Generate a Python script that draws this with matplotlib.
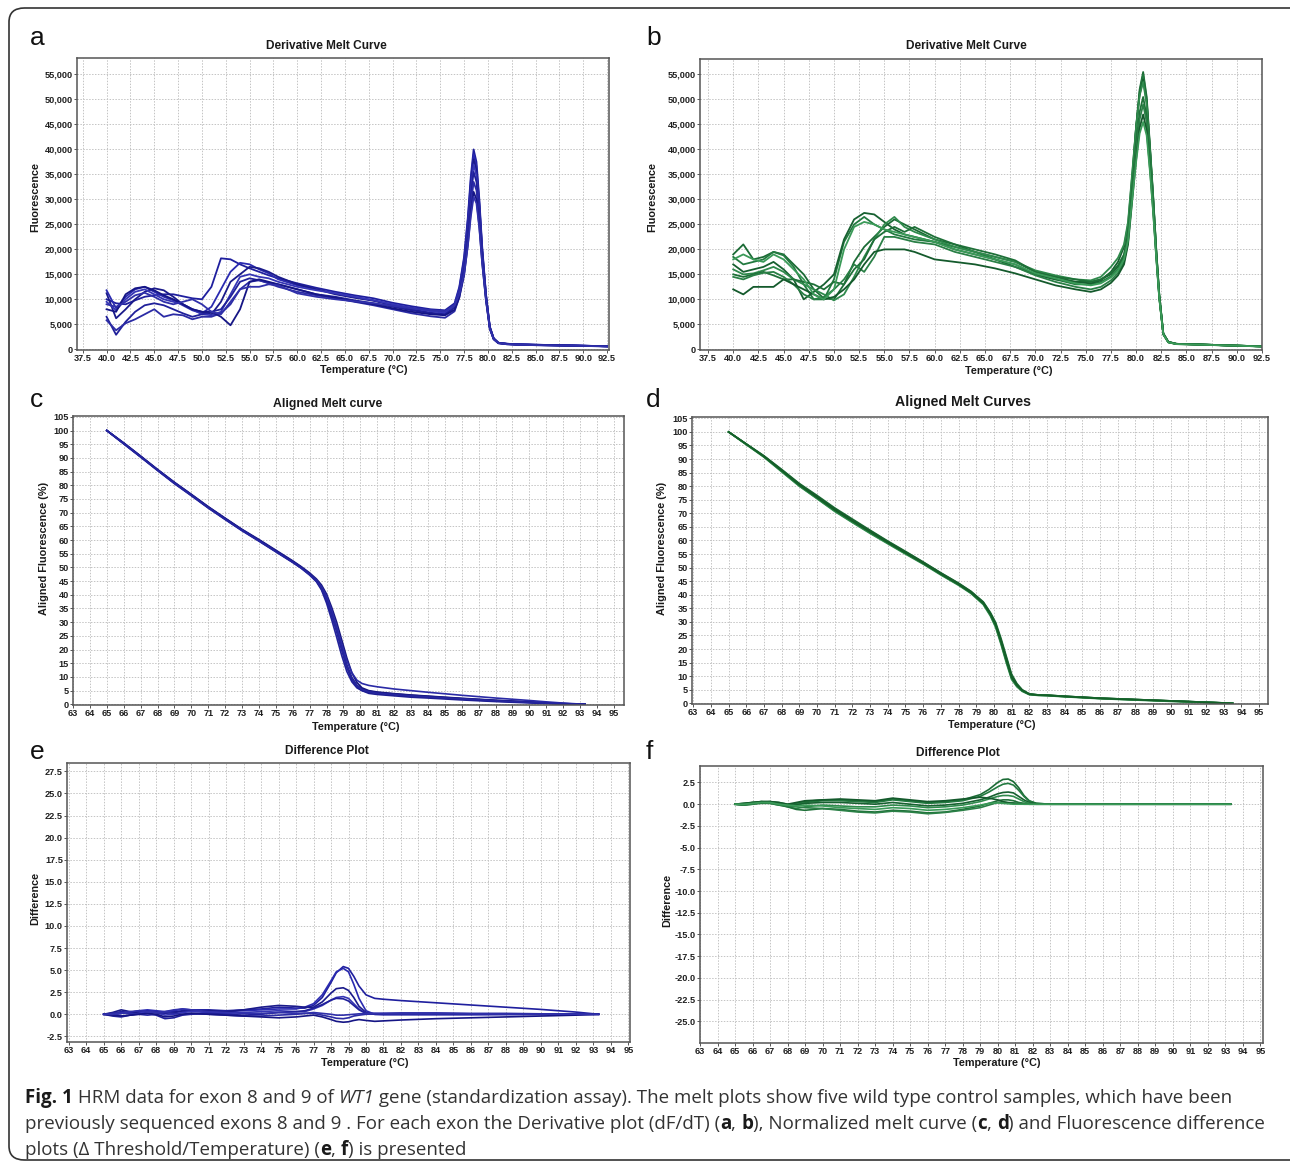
import matplotlib
matplotlib.use('Agg')
import matplotlib.pyplot as plt
from matplotlib.patches import FancyBboxPatch
import numpy as np

W, H = 1290, 1166

# ---- panel a : derivative melt curve, exon 8 (blue) ----
temp_a = [40, 41, 42, 43, 44, 45, 46, 47, 48, 49, 50, 51, 52, 53, 54, 55, 56, 57, 58,
          60, 62, 64, 66, 68, 70, 72, 74,
          75.5, 76.5, 77.0, 77.5, 77.9, 78.2, 78.5, 78.8, 79.1, 79.4, 79.8, 80.2, 80.6, 81.1, 82, 83, 85, 88, 92.5]
deriv_a = [
    [10000, 9200, 9000, 9800, 10500, 10800, 11000, 11000, 10600, 10200, 10000, 12500, 18200, 18000, 17000, 16200, 15500, 14800, 14200,
     13200, 12300, 11500, 10800, 10200, 9300, 8600, 8000,
     7800, 9200, 12500, 18500, 26500, 34500, 40000, 37500, 30000, 20500, 11000, 4500, 2200, 1300, 1100, 1000, 900, 800, 600],
    [11800, 8200, 10500, 12000, 12500, 11500, 10500, 9800, 8800, 7800, 7200, 8500, 12000, 15500, 17300, 17000, 16000, 15200, 14000,
     12800, 12000, 11200, 10500, 9800, 9000, 8300, 7800,
     7500, 8900, 12200, 18000, 26000, 33700, 39000, 36600, 29300, 20000, 10800, 4400, 2150, 1300, 1100, 1000, 900, 800, 600],
    [11200, 6200, 8000, 10000, 11500, 12200, 11800, 10500, 9000, 8000, 7500, 7000, 9500, 13500, 15000, 16500, 16200, 15500, 14500,
     13000, 12000, 11000, 10300, 9700, 8800, 8000, 7300,
     7000, 8400, 11600, 17300, 25000, 32700, 38000, 35800, 28800, 19800, 10800, 4500, 2200, 1280, 1080, 1000, 900, 780, 600],
    [9500, 7800, 10000, 11500, 12000, 11000, 10000, 9500, 9000, 8000, 7000, 6800, 7500, 11000, 14500, 15000, 14500, 14200, 13500,
     12500, 11800, 11200, 10500, 9800, 9000, 8200, 7600,
     7300, 8600, 11600, 17000, 24500, 31900, 37000, 34800, 28000, 19200, 10500, 4300, 2100, 1250, 1080, 1000, 880, 780, 600],
    [6500, 2900, 5500, 7500, 8800, 9200, 8800, 8000, 7200, 6500, 7000, 7500, 8000, 10500, 13500, 14200, 13800, 13300, 13000,
     12000, 11000, 10500, 9800, 9200, 8500, 7800, 7200,
     7000, 8300, 11200, 16300, 23500, 30600, 35500, 33500, 27000, 18600, 10300, 4300, 2100, 1250, 1050, 950, 850, 750, 600],
    [5800, 3800, 5200, 6000, 7000, 8000, 6500, 7000, 6800, 6000, 6500, 6500, 7200, 9000, 12000, 13500, 13800, 13200, 12500,
     11500, 10800, 10200, 9500, 8800, 8000, 7200, 6600,
     6300, 7600, 10400, 15300, 22000, 28800, 33500, 31800, 25800, 18000, 10000, 4200, 2100, 1250, 1050, 950, 850, 750, 600],
    [8000, 7500, 11000, 12200, 12500, 11800, 10800, 10000, 9000, 8000, 7500, 7500, 6500, 4800, 8000, 13500, 14000, 13500, 13000,
     12000, 11000, 10300, 9600, 9000, 8200, 7500, 7000,
     6800, 7900, 10400, 14800, 21000, 27200, 31500, 30000, 24500, 17300, 9700, 4100, 2000, 1200, 1000, 900, 820, 720, 580],
    [9000, 8500, 9500, 10800, 11300, 10500, 9500, 9000, 9500, 10000, 9000, 7500, 7000, 9500, 12000, 12500, 12500, 13000, 12800,
     11200, 10500, 10000, 9600, 9200, 8700, 8200, 7800,
     7600, 8700, 11000, 15000, 20800, 26500, 30500, 29200, 24200, 17200, 9800, 4100, 2000, 1200, 1000, 900, 820, 720, 580],
]

# ---- panel b : derivative melt curve, exon 9 (green) ----
temp_b = [40, 41, 42, 43, 44, 45, 46, 47, 48, 49, 50, 51, 52, 53, 54, 55, 56, 57, 58,
          60, 62, 64, 66, 68, 70, 72, 74,
          75.5, 76.5, 77.5, 78.2, 78.8, 79.2, 79.6, 80.0, 80.35, 80.7, 81.05, 81.4, 81.7, 82.0, 82.3, 82.7,
          83.2, 84, 86, 89, 92.5]
deriv_b = [
    [19000, 21000, 18000, 18500, 19500, 19000, 17000, 15000, 12000, 10200, 10000, 13000, 17500, 20500, 22500, 24500, 26000, 25000, 24000,
     22000, 21000, 19500, 18500, 17500, 15500, 14500, 13500,
     13500, 14000, 15000, 16500, 18800, 23000, 33500, 44500, 52000, 55500, 50500, 40000, 30500, 20000, 11000, 3200,
     1500, 1100, 1000, 800, 600],
    [18500, 17000, 17500, 18000, 19500, 18800, 16500, 13000, 10000, 10000, 14000, 21500, 25000, 26500, 25000, 24000, 23000, 22500, 22000,
     21500, 20500, 19500, 18000, 17000, 15000, 14000, 13000,
     13000, 13500, 14600, 16000, 18300, 22500, 33000, 44000, 51500, 55000, 50000, 39600, 30200, 19800, 10900, 3200,
     1500, 1100, 1000, 800, 600],
    [17000, 15500, 16000, 16500, 17500, 16000, 14000, 10000, 11500, 13000, 15000, 22000, 26000, 27300, 27000, 25500, 24000, 23000, 22500,
     21500, 20000, 19000, 18000, 16500, 15000, 14000, 13500,
     13200, 13800, 15500, 17500, 20500, 25000, 34500, 44500, 51000, 54000, 49500, 39300, 30000, 19700, 10800, 3100,
     1500, 1100, 1000, 800, 600],
    [16000, 15000, 15200, 15800, 16500, 15500, 14000, 13000, 12000, 11000, 9800, 11000, 14500, 18500, 22000, 25000, 26500, 24500, 23500,
     22000, 20500, 19500, 18500, 17500, 15800, 14800, 14000,
     13800, 14500, 16500, 18300, 21000, 25500, 35000, 44500, 50800, 53500, 49000, 39000, 29800, 19600, 10800, 3100,
     1450, 1100, 1000, 800, 600],
    [15000, 14500, 15000, 15500, 14800, 14000, 14000, 13500, 13000, 12000, 13500, 13000, 16000, 18000, 22000, 23500, 24500, 23500, 24500,
     22500, 21000, 20000, 19000, 17800, 15500, 14500, 14000,
     13500, 14000, 15300, 16800, 19000, 23000, 32000, 41000, 47500, 50500, 46500, 37200, 28600, 19000, 10500, 3100,
     1450, 1100, 1000, 800, 600],
    [14500, 14000, 14800, 15300, 15500, 14500, 13000, 11000, 10000, 10500, 12000, 14000, 17000, 15500, 18500, 22500, 22500, 22000, 21500,
     21000, 19500, 18500, 17500, 16500, 14800, 13500, 12500,
     12000, 12500, 13800, 15300, 17500, 21500, 30500, 39500, 46000, 49000, 45500, 36500, 28200, 18800, 10400, 3000,
     1400, 1100, 950, 800, 600],
    [12000, 11000, 12500, 12500, 12500, 14000, 13000, 12000, 11000, 10000, 10500, 12000, 14000, 17000, 19500, 20000, 20000, 20000, 19500,
     18000, 17500, 17000, 16200, 15200, 14000, 12800, 12000,
     11500, 12000, 13300, 14800, 17000, 21000, 29500, 38000, 44300, 47000, 43800, 35500, 27500, 18500, 10300, 3000,
     1400, 1050, 950, 780, 580],
    [18000, 19000, 18000, 17500, 19000, 18000, 16000, 14000, 11000, 10000, 12000, 20000, 24500, 25500, 25000, 24000, 23500, 23000, 22500,
     21500, 20000, 19000, 18000, 17000, 15200, 14200, 13200,
     12800, 13200, 14400, 15800, 18000, 21800, 29800, 37500, 43200, 45500, 42800, 35000, 27200, 18300, 10200, 3000,
     1400, 1050, 950, 780, 580],
]

# ---- panel c : aligned melt curve, exon 8 ----
temp_c = [65, 66, 67, 68, 69, 70, 71, 72, 73, 74, 75, 76, 76.5, 77, 77.4, 77.7, 78.0, 78.3, 78.6, 78.9,
          79.2, 79.5, 79.8, 80.1, 80.5, 81, 82, 83, 84, 86, 88, 90, 91, 92, 93, 93.3]
aligned_c = [
    [100, 95.3, 90.5, 85.6, 80.9, 76.5, 72.0, 67.8, 63.7, 59.9, 56.0, 52.1, 50.0, 47.6, 45.3, 42.8, 38.8, 33.5, 27.5, 20.8,
     14.5, 9.8, 7.0, 5.6, 4.8, 4.3, 3.8, 3.3, 2.9, 2.1, 1.4, 0.8, 0.5, 0.25, 0.05, 0],
    [100, 95.1, 90.3, 85.4, 80.6, 76.2, 71.7, 67.5, 63.4, 59.6, 55.7, 51.8, 49.7, 47.2, 44.8, 41.8, 37.0, 31.0, 24.5, 17.8,
     12.0, 8.2, 6.0, 5.0, 4.4, 4.0, 3.5, 3.0, 2.6, 1.9, 1.2, 0.7, 0.4, 0.2, 0.0, 0],
    [100, 95.5, 90.7, 85.8, 81.1, 76.7, 72.2, 68.0, 63.9, 60.2, 56.3, 52.4, 50.3, 48.0, 45.8, 43.6, 40.3, 35.5, 30.0, 23.5,
     17.0, 11.5, 8.0, 6.0, 5.0, 4.5, 3.9, 3.4, 3.0, 2.2, 1.5, 0.9, 0.55, 0.3, 0.05, 0],
    [100, 95.2, 90.4, 85.5, 80.8, 76.4, 71.9, 67.7, 63.6, 59.8, 55.9, 52.0, 49.9, 47.5, 45.4, 43.0, 39.5, 34.5, 28.5, 22.0,
     16.0, 11.5, 8.8, 7.6, 6.9, 6.4, 5.6, 5.0, 4.4, 3.3, 2.3, 1.4, 0.9, 0.45, 0.1, 0],
    [100, 95.4, 90.6, 85.7, 81.0, 76.6, 72.1, 67.9, 63.8, 60.0, 56.1, 52.2, 50.1, 47.7, 45.0, 42.2, 38.0, 32.5, 26.5, 19.8,
     13.5, 9.0, 6.4, 5.0, 4.0, 3.6, 3.1, 2.6, 2.3, 1.6, 1.0, 0.5, 0.3, 0.1, 0.0, 0],
    [100, 95.3, 90.4, 85.6, 80.7, 76.3, 71.8, 67.6, 63.5, 59.7, 55.8, 51.9, 49.8, 47.4, 45.1, 42.5, 38.3, 33.0, 27.0, 20.2,
     14.0, 9.4, 6.7, 5.4, 4.6, 4.1, 3.6, 3.1, 2.7, 2.0, 1.3, 0.75, 0.45, 0.2, 0.03, 0],
]

# ---- panel d : aligned melt curves, exon 9 ----
temp_d = [65, 66, 67, 68, 69, 70, 71, 72, 73, 74, 75, 76, 77, 78, 78.7, 79.4, 79.8, 80.1, 80.4, 80.7,
          81.0, 81.3, 81.6, 82.0, 82.5, 83, 84, 86, 88, 90, 92, 93, 93.5]
aligned_d = [
    [100, 95.5, 91.0, 85.8, 80.5, 76.0, 71.4, 67.3, 63.3, 59.4, 55.6, 51.8, 47.8, 44.0, 41.0, 37.0, 33.0, 29.0, 23.0, 16.3,
     9.8, 6.8, 4.8, 3.4, 3.1, 3.0, 2.6, 1.9, 1.4, 0.9, 0.4, 0.15, 0],
    [100, 95.6, 91.2, 86.2, 81.0, 76.6, 72.0, 67.9, 63.8, 59.8, 56.0, 52.1, 48.1, 44.3, 41.3, 37.4, 33.5, 29.8, 24.0, 17.4,
     10.8, 7.3, 5.0, 3.5, 3.1, 3.0, 2.6, 1.9, 1.4, 0.9, 0.4, 0.15, 0],
    [100, 95.4, 90.8, 85.5, 80.1, 75.5, 70.9, 66.8, 62.8, 59.0, 55.2, 51.5, 47.5, 43.7, 40.7, 36.6, 32.5, 28.3, 22.2, 15.5,
     9.2, 6.4, 4.6, 3.3, 3.0, 2.9, 2.5, 1.8, 1.3, 0.8, 0.35, 0.1, 0],
    [100, 95.5, 91.1, 86.0, 80.8, 76.3, 71.7, 67.6, 63.6, 59.6, 55.8, 52.0, 48.0, 44.2, 41.2, 37.2, 33.2, 29.3, 23.4, 16.8,
     10.2, 7.0, 4.9, 3.4, 3.1, 3.0, 2.6, 1.9, 1.4, 0.9, 0.4, 0.15, 0],
    [100, 95.3, 90.7, 85.3, 80.0, 75.4, 70.7, 66.6, 62.6, 58.8, 55.0, 51.3, 47.3, 43.5, 40.5, 36.4, 32.2, 28.0, 21.8, 15.0,
     8.8, 6.1, 4.4, 3.2, 2.9, 2.8, 2.4, 1.7, 1.2, 0.7, 0.3, 0.1, 0],
    [100, 95.5, 90.9, 85.7, 80.4, 75.8, 71.2, 67.1, 63.1, 59.2, 55.4, 51.6, 47.6, 43.8, 40.8, 36.8, 32.8, 28.7, 22.6, 15.9,
     9.5, 6.6, 4.7, 3.3, 3.0, 2.9, 2.5, 1.8, 1.3, 0.85, 0.35, 0.12, 0],
]

# ---- panel e : difference plot, exon 8 ----
temp_e = [65, 65.5, 66, 66.5, 67, 67.5, 68, 68.5, 69, 69.5, 70, 71, 72, 73, 74, 75, 76, 76.5, 77, 77.5,
          78, 78.3, 78.7, 79.0, 79.3, 79.6, 80.0, 80.5, 81, 82, 84, 86, 88, 90, 92, 93.3]
diff_e = [
    [0, 0.1, 0.3, 0.2, 0.3, 0.4, 0.3, 0.2, 0.3, 0.4, 0.5, 0.5, 0.4, 0.5, 0.6, 0.8, 0.7, 0.7, 1.0, 1.9,
     3.6, 4.7, 5.4, 5.2, 4.3, 3.2, 2.2, 1.8, 1.7, 1.55, 1.3, 1.05, 0.8, 0.55, 0.25, 0],
    [0, -0.1, 0.1, 0.2, 0.4, 0.5, 0.4, 0.3, 0.4, 0.6, 0.5, 0.4, 0.3, 0.4, 0.5, 0.6, 0.6, 0.8, 1.2, 2.2,
     3.8, 4.8, 5.2, 4.8, 3.4, 1.8, 0.4, 0.0, -0.05, -0.05, -0.05, -0.05, -0.03, -0.02, -0.01, 0],
    [0, 0.2, 0.5, 0.3, 0.2, 0.3, 0.2, 0.1, 0.2, 0.3, 0.4, 0.4, 0.3, 0.5, 0.8, 1.0, 0.9, 0.8, 0.8, 1.4,
     2.4, 2.9, 3.0, 2.7, 1.9, 0.9, 0.2, 0.0, 0.0, 0.0, 0.0, 0.0, 0.0, 0.0, 0.0, 0],
    [0, 0.0, -0.2, -0.1, 0.1, 0.3, 0.2, -0.1, 0.0, 0.2, 0.3, 0.2, 0.1, 0.2, 0.3, 0.4, 0.3, 0.3, 0.6, 1.0,
     1.6, 1.9, 2.0, 1.8, 1.2, 0.6, 0.1, 0.1, 0.1, 0.1, 0.1, 0.05, 0.05, 0.03, 0.01, 0],
    [0, -0.2, -0.3, -0.1, 0.0, 0.1, -0.1, -0.5, -0.4, -0.1, 0.0, 0.1, 0.0, -0.1, 0.0, 0.2, 0.3, 0.4, 0.7, 1.1,
     1.6, 1.8, 1.75, 1.5, 1.0, 0.5, 0.1, 0.0, 0.0, 0.0, 0.0, 0.0, 0.0, 0.0, 0.0, 0],
    [0, 0.1, 0.2, 0.1, 0.0, -0.1, 0.0, 0.2, 0.1, 0.0, 0.1, 0.0, -0.1, -0.2, -0.2, -0.1, 0.0, 0.1, 0.1, -0.1,
     -0.3, -0.45, -0.5, -0.4, -0.2, -0.1, 0.0, 0.05, 0.1, 0.15, 0.15, 0.1, 0.1, 0.05, 0.02, 0],
    [0, -0.1, -0.2, -0.1, 0.0, 0.1, 0.0, -0.3, -0.2, 0.0, 0.1, 0.0, -0.1, -0.2, -0.3, -0.4, -0.3, -0.2, -0.1, -0.3,
     -0.6, -0.8, -0.9, -0.85, -0.7, -0.6, -0.7, -0.8, -0.75, -0.65, -0.5, -0.4, -0.3, -0.2, -0.1, 0],
    [0, 0.0, 0.1, 0.3, 0.4, 0.3, 0.2, 0.3, 0.5, 0.6, 0.5, 0.3, 0.2, 0.1, 0.1, 0.2, 0.1, 0.1, 0.2, 0.1,
     0.0, -0.1, -0.1, -0.05, 0.0, 0.05, 0.1, 0.1, 0.05, 0.05, 0.05, 0.05, 0.02, 0.02, 0.01, 0],
]

# ---- panel f : difference plot, exon 9 ----
temp_f = [65, 65.5, 66, 66.5, 67, 67.5, 68, 68.5, 69, 70, 71, 72, 73, 74, 75, 76, 77, 78, 79, 79.5,
          80, 80.3, 80.6, 80.9, 81.2, 81.5, 81.8, 82.2, 83, 85, 88, 90, 93.3]
diff_f = [
    [0, 0.1, 0.2, 0.3, 0.3, 0.1, -0.1, 0.1, 0.3, 0.5, 0.5, 0.4, 0.3, 0.6, 0.4, 0.2, 0.3, 0.5, 1.1, 1.7,
     2.5, 2.85, 2.9, 2.6, 1.9, 1.0, 0.4, 0.1, 0.0, 0.0, 0.0, 0.0, 0],
    [0, 0.0, 0.2, 0.2, 0.3, 0.2, 0.0, 0.0, 0.2, 0.4, 0.4, 0.3, 0.2, 0.5, 0.3, 0.1, 0.2, 0.4, 0.9, 1.4,
     2.0, 2.3, 2.4, 2.2, 1.6, 0.9, 0.35, 0.1, 0.0, 0.0, 0.0, 0.0, 0],
    [0, -0.1, 0.1, 0.2, 0.2, 0.0, -0.2, -0.1, 0.1, 0.2, 0.2, 0.1, 0.0, 0.2, 0.0, -0.2, -0.1, 0.1, 0.5, 0.8,
     1.2, 1.35, 1.4, 1.3, 0.9, 0.5, 0.2, 0.05, 0.0, 0.0, 0.0, 0.0, 0],
    [0, 0.0, 0.1, 0.3, 0.2, 0.0, -0.3, -0.5, -0.3, -0.1, -0.2, -0.3, -0.3, -0.1, -0.2, -0.4, -0.3, -0.1, 0.3, 0.6,
     0.9, 1.0, 1.0, 0.9, 0.6, 0.3, 0.1, 0.0, 0.0, 0.0, 0.0, 0.0, 0],
    [0, -0.1, 0.0, 0.1, 0.1, -0.1, -0.3, -0.6, -0.7, -0.5, -0.6, -0.8, -0.9, -0.7, -0.8, -1.0, -0.9, -0.6, -0.2, 0.1,
     0.4, 0.5, 0.5, 0.4, 0.2, 0.1, 0.0, 0.0, 0.0, 0.0, 0.0, 0.0, 0],
    [0, -0.1, 0.0, 0.2, 0.1, -0.1, -0.2, -0.3, -0.4, -0.5, -0.7, -0.9, -1.0, -0.8, -0.9, -1.1, -0.95, -0.7, -0.4, -0.1,
     0.2, 0.25, 0.2, 0.15, 0.1, 0.05, 0.0, 0.0, 0.0, 0.0, 0.0, 0.0, 0],
    [0, 0.1, 0.2, 0.3, 0.3, 0.2, 0.0, 0.2, 0.4, 0.5, 0.6, 0.5, 0.4, 0.7, 0.5, 0.3, 0.4, 0.6, 0.8, 0.7,
     0.5, 0.3, 0.15, 0.1, 0.05, 0.0, 0.0, 0.0, 0.0, 0.0, 0.0, 0.0, 0],
    [0, 0.0, 0.1, 0.2, 0.2, 0.0, -0.1, -0.2, -0.1, -0.2, -0.4, -0.5, -0.6, -0.4, -0.5, -0.7, -0.6, -0.4, -0.1, 0.1,
     0.15, 0.1, 0.05, 0.0, 0.0, 0.0, 0.0, 0.0, 0.0, 0.0, 0.0, 0.0, 0],
]

blues = ['#1f1f9e', '#2a2ab0', '#1a1a8a', '#3535b5', '#20209a', '#2b2ba5', '#151585', '#3030aa']
greens = ['#1b6b35', '#237a40', '#176030', '#2f8a4c', '#1e7038', '#2a8046', '#145a2c', '#3a9a58']

TICK_FONT = ['Liberation Sans Narrow', 'Liberation Sans', 'DejaVu Sans']
LABEL_FONT = ['Liberation Sans', 'DejaVu Sans']

fig = plt.figure(figsize=(W / 100, H / 100), dpi=100)


def px_axes(left, top, right, bottom):
    return fig.add_axes([left / W, 1 - bottom / H, (right - left) / W, (bottom - top) / H])


def ftext(x, y, s, **kw):
    return fig.text(x / W, 1 - y / H, s, **kw)


def style_axes(ax, xticks, xfmt, yticks, yfmt, xlim, ylim):
    ax.set_xlim(*xlim)
    ax.set_ylim(*ylim)
    ax.set_xticks(xticks)
    ax.set_xticklabels([xfmt(v) for v in xticks])
    ax.set_yticks(yticks)
    ax.set_yticklabels([yfmt(v) for v in yticks])
    ax.grid(True, linestyle=(0, (1.5, 1.5)), color='#c4c4c4', linewidth=0.7)
    ax.set_axisbelow(True)
    for sp in ax.spines.values():
        sp.set_color('#555555')
        sp.set_linewidth(1.1)
    ax.tick_params(direction='out', length=2, width=0.7, color='#555555', pad=1)
    for lab in ax.get_xticklabels() + ax.get_yticklabels():
        lab.set_family(TICK_FONT)
        lab.set_fontweight('bold')
        lab.set_fontsize(6.6)
        lab.set_color('#202020')


def plot_set(ax, xs, series, colors, lw):
    for i, ys in enumerate(series):
        ax.plot(xs, ys, color=colors[i % len(colors)], linewidth=lw, solid_joinstyle='round')


comma = lambda v: '{:,}'.format(int(v))
one_dec = lambda v: '{:.1f}'.format(v)
integer = lambda v: '{:d}'.format(int(v))

x_deriv = np.arange(37.5, 92.6, 2.5)
y_deriv = np.arange(0, 55001, 5000)
x_norm = np.arange(63, 96, 1)
y_norm = np.arange(0, 106, 5)
y_diff_e = np.arange(-2.5, 27.6, 2.5)
y_diff_f = np.arange(-25.0, 2.6, 2.5)

# panel a
ax = px_axes(77, 58, 609, 350)
plot_set(ax, temp_a, deriv_a, blues, 1.3)
style_axes(ax, x_deriv, one_dec, y_deriv, comma, (36.9, 92.7), (-150, 58300))

# panel b
ax = px_axes(700, 59, 1262, 350)
plot_set(ax, temp_b, deriv_b, greens, 1.3)
style_axes(ax, x_deriv, one_dec, y_deriv, comma, (36.7, 92.5), (-130, 58100))

# panel c
ax = px_axes(73, 416, 624, 705)
plot_set(ax, temp_c, aligned_c, ['#1c1c8e', '#23239c', '#17177f', '#2a2aa6', '#1e1e92', '#25259e'], 1.2)
style_axes(ax, x_norm, integer, y_norm, integer, (63.0, 95.6), (-0.25, 105.3))

# panel d
ax = px_axes(692, 417, 1268, 704)
plot_set(ax, temp_d, aligned_d, ['#1a6632', '#1f7038', '#3d9a5a', '#185e2e', '#2e8a4c', '#146028'], 1.2)
style_axes(ax, x_norm, integer, y_norm, integer, (62.93, 95.5), (-0.25, 105.5))

# panel e
ax = px_axes(67, 763, 630, 1042)
plot_set(ax, temp_e, diff_e, blues, 1.2)
style_axes(ax, x_norm, integer, y_diff_e, one_dec, (62.9, 95.1), (-3.14, 28.45))

# panel f
ax = px_axes(700, 766, 1263, 1043)
plot_set(ax, temp_f, diff_f, greens, 1.2)
style_axes(ax, x_norm, integer, y_diff_f, one_dec, (63.0, 95.15), (-27.5, 4.4))

# titles, axis labels, panel letters
titles = [(326, 46, 'Derivative Melt Curve', 8.6), (966, 46, 'Derivative Melt Curve', 8.6),
          (328, 404, 'Aligned Melt curve', 8.8), (963, 402, 'Aligned Melt Curves', 10.2),
          (327, 751, 'Difference Plot', 8.6), (958, 753, 'Difference Plot', 8.6)]
for x, y, s, fs in titles:
    ftext(x, y, s, ha='center', va='center', fontsize=fs, fontweight='bold', family=LABEL_FONT, color='#1a1a1a')

xlabels = [(364, 370), (1009, 371), (356, 727), (992, 725), (365, 1063), (997, 1063)]
for x, y in xlabels:
    ftext(x, y, 'Temperature (°C)', ha='center', va='center', fontsize=7.8, fontweight='bold',
          family=LABEL_FONT, color='#1a1a1a')

ylabels = [(35, 197, 'Fluorescence'), (652, 197, 'Fluorescence'),
           (44, 548, 'Aligned Fluorescence (%)'), (662, 548, 'Aligned Fluorescence (%)'),
           (35, 898, 'Difference'), (667, 900, 'Difference')]
for x, y, s in ylabels:
    ftext(x, y, s, ha='center', va='center', rotation=90, fontsize=7.8, fontweight='bold',
          family=LABEL_FONT, color='#1a1a1a')

letters = [(30, 38, 'a'), (646, 38, 'b'), (30, 400, 'c'), (646, 400, 'd'), (30, 752, 'e'), (646, 752, 'f')]
for x, y, s in letters:
    ftext(x, y, s, ha='left', va='center', fontsize=19, family=LABEL_FONT, color='#111111')

# rounded frame around the figure
frame = FancyBboxPatch((9 / W, 6 / H), (W + 20) / W, (H - 14) / H, transform=fig.transFigure,
                       boxstyle='round,pad=0,rounding_size=0.012', fill=False,
                       edgecolor='#333333', linewidth=1.2, clip_on=False)
fig.patches.append(frame)

# caption with mixed styles
CAP_FONT = ['Open Sans', 'DejaVu Sans']
CAP_SIZE = 13.5
renderer = fig.canvas.get_renderer()


def text_width(s, **kw):
    t1 = fig.text(0, 0, s + '|', fontsize=CAP_SIZE, family=CAP_FONT, **kw)
    t2 = fig.text(0, 0, '|', fontsize=CAP_SIZE, family=CAP_FONT, **kw)
    w = t1.get_window_extent(renderer).width - t2.get_window_extent(renderer).width
    t1.remove()
    t2.remove()
    return w


styles = {'n': {}, 'b': {'fontweight': 'bold'}, 'i': {'fontstyle': 'italic'}}
caption = [
    (1103, [('Fig. 1', 'b'), (' HRM data for exon 8 and 9 of ', 'n'), ('WT1', 'i'),
            (' gene (standardization assay). The melt plots show five wild type control samples, which have been', 'n')]),
    (1129, [('previously sequenced exons 8 and 9 . For each exon the Derivative plot (dF/dT) (', 'n'), ('a', 'b'),
            (', ', 'n'), ('b', 'b'), ('), Normalized melt curve (', 'n'), ('c', 'b'), (', ', 'n'), ('d', 'b'),
            (') and Fluorescence difference', 'n')]),
    (1155, [('plots (Δ Threshold/Temperature) (', 'n'), ('e', 'b'), (', ', 'n'), ('f', 'b'), (') is presented', 'n')]),
]
for y, runs in caption:
    x = 25
    for s, st in runs:
        kw = styles[st]
        ftext(x, y, s, ha='left', va='baseline', fontsize=CAP_SIZE, family=CAP_FONT,
              color='#1a1a1a' if st == 'b' else '#333333', **kw)
        x += text_width(s, **kw)

fig.savefig('out.png', dpi=100)
